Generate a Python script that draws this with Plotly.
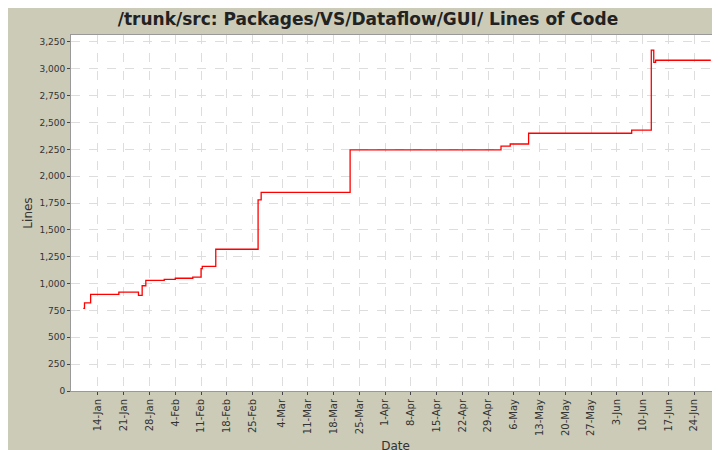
import plotly.graph_objects as go

dates = ["2008-01-10","2008-01-10 08:00","2008-01-12","2008-01-19 16:00","2008-01-25","2008-01-26","2008-01-27",
         "2008-02-01","2008-02-04","2008-02-08 18:00","2008-02-11","2008-02-11 08:00","2008-02-15",
         "2008-02-26 12:00","2008-02-27 08:00","2008-03-22 12:00","2008-05-02 12:00","2008-05-05","2008-05-10",
         "2008-06-07","2008-06-12 08:00","2008-06-13","2008-06-13 12:00","2008-06-28 12:00"]
lines = [770,820,900,920,890,980,1030,1040,1050,1060,1140,1160,1320,1780,1850,2245,2280,2300,2400,2430,3175,3060,3080,3080]

tick_vals = ["2008-01-14","2008-01-21","2008-01-28","2008-02-04","2008-02-11","2008-02-18","2008-02-25","2008-03-04",
             "2008-03-11","2008-03-18","2008-03-25","2008-04-01","2008-04-08","2008-04-15","2008-04-22","2008-04-29",
             "2008-05-06","2008-05-13","2008-05-20","2008-05-27","2008-06-03","2008-06-10","2008-06-17","2008-06-24"]
tick_text = ["14-Jan","21-Jan","28-Jan","4-Feb","11-Feb","18-Feb","25-Feb","4-Mar","11-Mar","18-Mar","25-Mar",
             "1-Apr","8-Apr","15-Apr","22-Apr","29-Apr","6-May","13-May","20-May","27-May","3-Jun","10-Jun","17-Jun","24-Jun"]
y_ticks = list(range(0, 3251, 250))

fig = go.Figure(go.Scatter(x=dates, y=lines, mode="lines", line=dict(color="#ff0000", width=1.3, shape="hv")))
fig.update_layout(
    width=720, height=450, margin=dict(l=63, r=8, t=27, b=67, autoexpand=False),
    paper_bgcolor="#cccbb8", plot_bgcolor="white",
    font=dict(family="DejaVu Sans", size=10, color="#333"),
    title=dict(text="<b>/trunk/src: Packages/VS/Dataflow/GUI/ Lines of Code</b>", x=0.5, y=0.975, xanchor="center",
               yanchor="middle", font=dict(size=17, color="#222")),
    showlegend=False,
)
fig.update_xaxes(range=["2008-01-06 16:00","2008-07-01"], tickvals=tick_vals, ticktext=tick_text, tickangle=-90,
                 showgrid=True, gridcolor="#dddddd", griddash="dash", ticks="outside", ticklen=3, automargin=False,
                 title=dict(text="Date", font=dict(size=12), standoff=6), linecolor="#999", showline=True, mirror=True,
                 tickfont=dict(size=10))
fig.update_yaxes(range=[0, 3315], tickvals=y_ticks, ticktext=[f"{v:,}" for v in y_ticks], automargin=False,
                 showgrid=True, gridcolor="#dddddd", griddash="dash", ticks="outside", ticklen=3,
                 title=dict(text="Lines", font=dict(size=12), standoff=4), linecolor="#999", showline=True, mirror=True,
                 tickfont=dict(size=9), zeroline=False)
fig.write_html("out.html")
